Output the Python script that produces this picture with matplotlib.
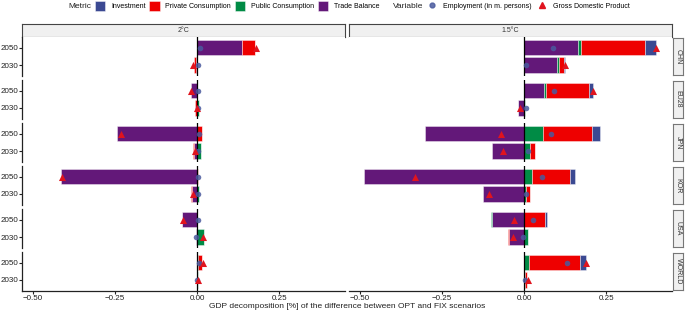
import matplotlib
matplotlib.use("Agg")
import matplotlib.pyplot as plt
from matplotlib.patches import Patch
from matplotlib.lines import Line2D

plt.rcParams['font.family'] = ['Liberation Sans', 'DejaVu Sans']

regions = ['CHN', 'EU28', 'JPN', 'KOR', 'USA', 'WORLD']
years = ['2050', '2030']
scenarios = ['2°C', '1.5°C']
metrics = ['Investment', 'Private Consumption', 'Public Consumption', 'Trade Balance']
metric_colors = ['#3B4992', '#EE0000', '#008B45', '#631879']
variables = ['Employment (in m. persons)', 'Gross Domestic Product']

# order: CHN 2050, CHN 2030, EU28 2050, EU28 2030, ...
trade_2c = [0.136, -0.003, -0.019, -0.001, -0.245, -0.011, -0.415, -0.016, -0.045, -0.003, 0.000, 0.000]
public_2c = [0.002, 0.001, 0.001, 0.007, 0.000, 0.011, 0.000, 0.007, -0.002, 0.022, 0.002, 0.002]
private_2c = [0.040, -0.008, 0.000, -0.004, 0.015, -0.002, 0.004, -0.002, 0.000, -0.001, 0.013, 0.002]
invest_2c = [0.000, 0.000, 0.000, 0.000, 0.000, 0.000, 0.000, 0.000, 0.000, 0.000, 0.000, 0.000]
gdp_2c = [0.180, -0.013, -0.018, 0.001, -0.232, -0.005, -0.413, -0.013, -0.044, 0.019, 0.017, 0.004]
emp_2c = [0.009, 0.002, 0.004, 0.003, 0.007, 0.002, 0.002, 0.004, 0.004, -0.002, 0.005, -0.001]

trade_15 = [0.164, 0.099, 0.061, -0.018, -0.302, -0.097, -0.487, -0.126, -0.099, -0.046, 0.000, 0.000]
public_15 = [0.011, 0.006, 0.006, 0.003, 0.057, 0.017, 0.025, 0.007, -0.002, 0.013, 0.016, 0.004]
private_15 = [0.195, 0.017, 0.130, -0.002, 0.149, 0.015, 0.114, 0.010, 0.063, -0.002, 0.153, 0.006]
invest_15 = [0.033, 0.002, 0.012, 0.000, 0.026, 0.002, 0.015, 0.000, 0.008, 0.000, 0.021, 0.000]
gdp_15 = [0.403, 0.124, 0.210, -0.014, -0.071, -0.063, -0.334, -0.107, -0.031, -0.034, 0.190, 0.012]
emp_15 = [0.088, 0.007, 0.091, 0.005, 0.083, 0.012, 0.055, 0.007, 0.027, -0.002, 0.132, 0.003]

data = {
    '2°C': {'Investment': invest_2c, 'Private Consumption': private_2c,
            'Public Consumption': public_2c, 'Trade Balance': trade_2c,
            'gdp': gdp_2c, 'emp': emp_2c},
    '1.5°C': {'Investment': invest_15, 'Private Consumption': private_15,
              'Public Consumption': public_15, 'Trade Balance': trade_15,
              'gdp': gdp_15, 'emp': emp_15},
}

xticks = [-0.50, -0.25, 0.00, 0.25]
xlabels = ['\u22120.50', '\u22120.25', '0.00', '0.25']

W, H = 685, 313
fig = plt.figure(figsize=(W / 100, H / 100), dpi=100)

def rect(x0, y0, x1, y1):
    return [x0 / W, 1 - y1 / H, (x1 - x0) / W, (y1 - y0) / H]

col_x = [(22, 345), (349, 672)]
row_tops = [37, 80, 123, 166, 209, 252]
row_h = 38.5
ypos = {'2050': 1, '2030': 0}
stack_order = ['Trade Balance', 'Public Consumption', 'Private Consumption', 'Investment']
cmap = dict(zip(metrics, metric_colors))
edge = (1, 1, 1, 0.55)
emp_color = '#4A5A9E'
gdp_color = '#E0141E'
tick_fs = 5.8
txt_col = '#222222'

for ci, scen in enumerate(scenarios):
    x0, x1 = col_x[ci]
    d = data[scen]
    sax = fig.add_axes(rect(x0, 24, x1, 37))
    sax.set_xticks([]); sax.set_yticks([])
    sax.set_facecolor('#F0F0F0')
    for s in sax.spines.values():
        s.set_color('#444444'); s.set_linewidth(0.8)
    sax.text(0.5, 0.5, scen, ha='center', va='center', fontsize=5, color='#333333',
             transform=sax.transAxes)
    for ri, reg in enumerate(regions):
        top = row_tops[ri]
        ax = fig.add_axes(rect(x0, top, x1, top + row_h))
        ax.set_xlim(-0.534, 0.451)
        ax.set_ylim(-0.6, 1.6)
        for yi, yr in enumerate(years):
            idx = ri * 2 + yi
            y = ypos[yr]
            pos_base, neg_base = 0.0, 0.0
            for m in stack_order:
                v = d[m][idx]
                if v >= 0:
                    ax.barh(y, v, left=pos_base, height=0.9, color=cmap[m],
                            edgecolor=edge, linewidth=0.5, zorder=2)
                    pos_base += v
                else:
                    ax.barh(y, v, left=neg_base, height=0.9, color=cmap[m],
                            edgecolor=edge, linewidth=0.5, zorder=2)
                    neg_base += v
            ax.scatter(d['emp'][idx], y, s=16, marker='o', color=emp_color,
                       alpha=0.85, zorder=4, linewidths=0)
            ax.scatter(d['gdp'][idx], y, s=26, marker='^', color=gdp_color,
                       zorder=5, linewidths=0)
        ax.axvline(0, color='black', linewidth=0.9, zorder=3)
        ax.set_facecolor('white')
        for s in ['top', 'right']:
            ax.spines[s].set_visible(False)
        if ci == 0:
            ax.spines['left'].set_color(txt_col)
            ax.spines['left'].set_linewidth(0.9)
            ax.set_yticks([1, 0])
            ax.set_yticklabels(['2050', '2030'], fontsize=tick_fs, color=txt_col)
            ax.tick_params(axis='y', length=2, width=0.8, pad=1, color=txt_col)
        else:
            ax.spines['left'].set_visible(False)
            ax.set_yticks([])
        if ri == len(regions) - 1:
            ax.spines['bottom'].set_color(txt_col)
            ax.spines['bottom'].set_linewidth(0.9)
            ax.set_xticks(xticks)
            ax.set_xticklabels(xlabels, fontsize=tick_fs, color=txt_col)
            ax.tick_params(axis='x', length=2, width=0.8, pad=1, color=txt_col)
        else:
            ax.spines['bottom'].set_visible(False)
            ax.set_xticks([])
        if ci == 1:
            rax = fig.add_axes(rect(673, top + 1, 683, top + row_h - 1))
            rax.set_xticks([]); rax.set_yticks([])
            rax.set_facecolor('#F0F0F0')
            for s in rax.spines.values():
                s.set_color('#777777'); s.set_linewidth(0.8)
            rax.text(0.5, 0.5, reg, ha='center', va='center', rotation=-90,
                     fontsize=5, color='#333333', transform=rax.transAxes)

fig.text(347 / W, 1 - 307 / H,
         'GDP decomposition [%] of the difference between OPT and FIX scenarios',
         ha='center', va='center', fontsize=6, color=txt_col)

# legends
ly = 1 - 6 / H
lfs = 5
fig.text(68 / W, ly, 'Metric', ha='left', va='center', fontsize=6, color=txt_col)
mh = [Patch(facecolor=c, edgecolor=(1, 1, 1, 0.6), linewidth=0.5) for c in metric_colors]
fig.legend(mh, metrics, ncol=4, loc='center left', bbox_to_anchor=(95 / W, ly),
           frameon=False, fontsize=lfs, handlelength=1.5, handleheight=1.65,
           handletextpad=0.8, columnspacing=0.55, borderpad=0, borderaxespad=0)
fig.text(393 / W, ly, 'Variable', ha='left', va='center', fontsize=6, color=txt_col)
vh = [Line2D([], [], marker='o', linestyle='', color=emp_color, markersize=3.5, alpha=0.85),
      Line2D([], [], marker='^', linestyle='', color=gdp_color, markersize=4.5)]
fig.legend(vh, variables, ncol=2, loc='center left', bbox_to_anchor=(428.5 / W, ly),
           frameon=False, fontsize=lfs, handlelength=1.0, handletextpad=1.05,
           columnspacing=1.05, borderpad=0, borderaxespad=0)

fig.savefig('out.png', dpi=100)
